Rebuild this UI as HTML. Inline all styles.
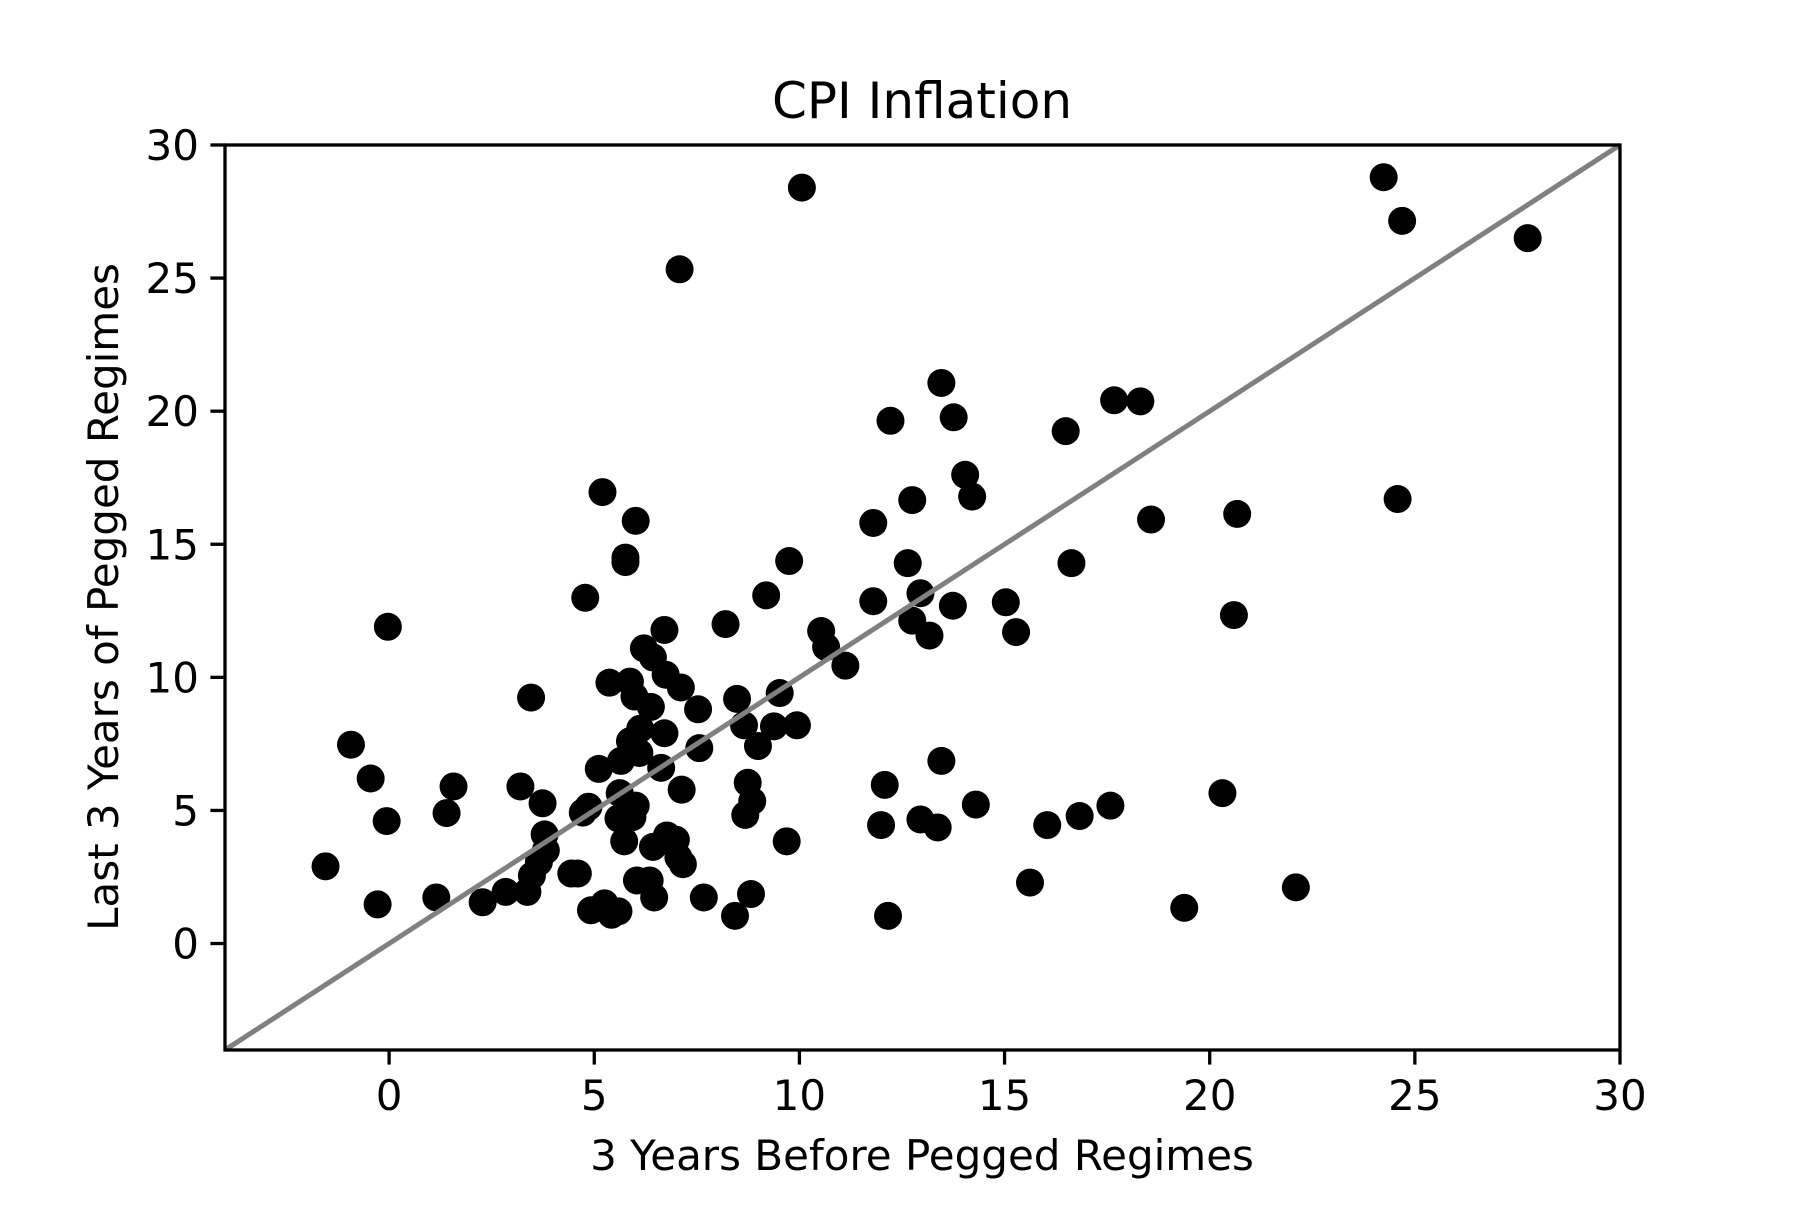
<!DOCTYPE html>
<html><head><meta charset="utf-8"><style>
html,body{margin:0;padding:0;background:#fff;}
svg text{font-family:"DejaVu Sans","Liberation Sans",sans-serif;fill:#000;}
</style></head><body>
<svg id="chart" width="1800" height="1200" viewBox="0 0 1800 1200" xmlns="http://www.w3.org/2000/svg">
<rect width="1800" height="1200" fill="#fff"/>
<g id="points"></g>
<g id="refline"></g>
<g id="axes"></g>
<text x="922" y="118" font-size="50" text-anchor="middle">CPI Inflation</text>
<text x="922" y="1170" font-size="42" text-anchor="middle">3 Years Before Pegged Regimes</text>
<text transform="translate(118,597) rotate(-90)" font-size="42" text-anchor="middle">Last 3 Years of Pegged Regimes</text>
</svg>
<script>
const xVals = [-1.55,-0.93,-0.45,-0.06,-0.03,-0.28,1.15,1.4,1.57,2.28,2.84,3.2,3.37,3.46,3.48,3.65,3.74,3.79,3.82,4.44,4.6,4.78,4.72,4.86,4.92,5.11,5.2,5.25,5.37,5.42,5.59,5.62,5.65,5.73,5.59,5.76,5.76,5.87,5.87,5.93,6.01,5.98,6.01,6.04,6.1,6.12,6.21,6.35,6.38,6.43,6.43,6.46,6.63,6.71,6.71,6.74,6.77,6.99,7.08,7.05,7.11,7.13,7.16,7.53,7.56,7.67,8.2,8.43,8.48,8.65,8.68,8.74,8.82,8.85,8.99,9.19,9.38,9.52,9.69,9.75,9.94,10.06,10.53,10.65,11.12,11.8,11.8,11.99,12.08,12.16,12.22,12.64,12.75,12.75,12.95,12.95,13.17,13.37,13.46,13.46,13.74,13.76,14.04,14.21,14.3,15.03,15.28,15.62,16.04,16.49,16.63,16.83,17.58,17.67,18.31,18.57,19.38,20.31,20.59,20.67,22.1,24.24,24.58,24.69,27.75];
const yVals = [2.9,7.47,6.2,4.6,11.9,1.47,1.73,4.9,5.9,1.55,1.94,5.9,1.94,9.24,2.55,3.06,5.27,4.1,3.5,2.63,2.63,12.99,4.92,5.14,1.25,6.56,16.96,1.51,9.8,1.08,4.7,5.65,6.86,3.84,1.21,14.5,14.33,9.84,7.6,4.75,15.88,9.28,5.18,2.37,7.16,8.07,11.09,2.37,8.89,10.75,3.63,1.73,6.6,11.78,7.9,10.1,4.06,3.9,25.33,3.24,9.62,5.78,2.98,8.8,7.34,1.73,12.0,1.04,9.19,8.2,4.83,6.04,1.86,5.35,7.42,13.08,8.16,9.41,3.84,14.37,8.2,28.4,11.74,11.14,10.44,15.8,12.86,4.45,5.96,1.04,19.64,14.29,16.66,12.13,13.16,4.66,11.57,4.36,6.86,21.06,12.69,19.77,17.61,16.79,5.22,12.82,11.7,2.29,4.45,19.25,14.29,4.79,5.18,20.41,20.37,15.93,1.34,5.65,12.34,16.14,2.11,28.79,16.7,27.15,26.5];
const xTicks = [0,5,10,15,20,25,30];
const yTicks = [0,5,10,15,20,25,30];
const xDomain = [-4,30];
const yDomain = [-4,30];
const lineX = [-4,30];

const L=225,R=1620,T=145,B=1050;
const NS="http://www.w3.org/2000/svg";
function sx(v){return L+(v-xDomain[0])/(xDomain[1]-xDomain[0])*(R-L);}
function sy(v){return B-(v-yDomain[0])/(yDomain[1]-yDomain[0])*(B-T);}
function mk(tag,attrs,parent){const e=document.createElementNS(NS,tag);for(const k in attrs)e.setAttribute(k,attrs[k]);parent.appendChild(e);return e;}

const pg=document.getElementById('points');
for(let i=0;i<xVals.length;i++){
  const c=mk('circle',{cx:sx(xVals[i]),cy:sy(yVals[i]),r:14,fill:'#000'},pg);
  
  
}
const lg=document.getElementById('refline');
const ln=mk('line',{x1:sx(lineX[0]),y1:sy(lineX[0]),x2:sx(lineX[1]),y2:sy(lineX[1]),stroke:'#808080','stroke-width':5},lg);



const ag=document.getElementById('axes');
const fr=mk('rect',{x:L,y:T,width:R-L,height:B-T,fill:'none',stroke:'#000','stroke-width':3.3},ag);


xTicks.forEach(t=>{
  const x=sx(t);
  const tk=mk('line',{x1:x,y1:B,x2:x,y2:B+14.6,stroke:'#000','stroke-width':3.3},ag);
  
  
  const tx=mk('text',{x:x,y:1110,'font-size':42,'text-anchor':'middle'},ag);
  tx.textContent=t;
  
  
});
yTicks.forEach(t=>{
  const y=sy(t);
  const tk=mk('line',{x1:L-14.6,y1:y,x2:L,y2:y,stroke:'#000','stroke-width':3.3},ag);
  
  
  const tx=mk('text',{x:L-26,y:y+15,'font-size':42,'text-anchor':'end'},ag);
  tx.textContent=t;
  
  
});
</script>
</body></html>
